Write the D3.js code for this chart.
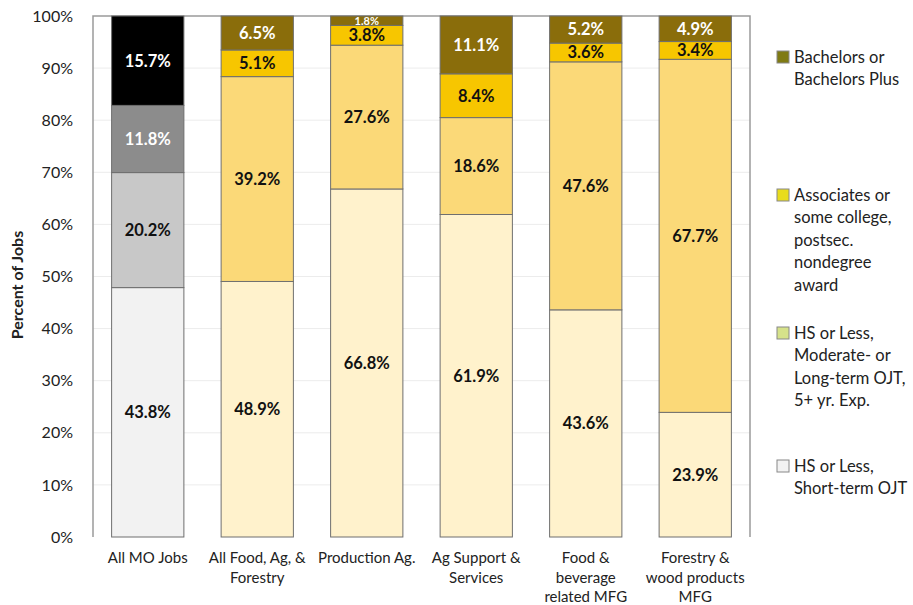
<!DOCTYPE html>
<html>
<head>
<meta charset="utf-8">
<script src="https://cdn.jsdelivr.net/npm/d3@7"></script>
<style>
  body { margin: 0; background: #fff; }
  text { font-family: Lato, "Open Sans", sans-serif; }
</style>
</head>
<body>
<div class="chart"></div>
<script>
var svgWidth = 913;
var svgHeight = 605;

var margin = { top: 16, right: 163, bottom: 68, left: 93 };
var width = svgWidth - margin.left - margin.right;
var height = svgHeight - margin.top - margin.bottom;

// Data
var categories = ["All MO Jobs", "All Food, Ag, & Forestry", "Production Ag.",
  "Ag Support & Services", "Food & beverage related MFG", "Forestry & wood products MFG"];
var categoryLines = [
  ["All MO Jobs"],
  ["All Food, Ag, &", "Forestry"],
  ["Production Ag."],
  ["Ag Support &", "Services"],
  ["Food &", "beverage", "related MFG"],
  ["Forestry &", "wood products", "MFG"]
];
var shortTerm = [43.8, 48.9, 66.8, 61.9, 43.6, 23.9];
var moderateOJT = [20.2, 39.2, 27.6, 18.6, 47.6, 67.7];
var associates = [11.8, 5.1, 3.8, 8.4, 3.6, 3.4];
var bachelors = [15.7, 6.5, 1.8, 11.1, 5.2, 4.9];
var seriesKeys = ["short", "moderate", "associates", "bachelors"];
var legendLines = [
  ["Bachelors or", "Bachelors Plus"],
  ["Associates or", "some college,", "postsec.", "nondegree", "award"],
  ["HS or Less,", "Moderate- or", "Long-term OJT,", "5+ yr. Exp."],
  ["HS or Less,", "Short-term OJT"]
];
var yTicks = [0, 0.1, 0.2, 0.3, 0.4, 0.5, 0.6, 0.7, 0.8, 0.9, 1];

// colours: first bar is grey scale, the rest are gold
var greyColors = ["#f2f2f2", "#c8c8c8", "#8c8c8c", "#000000"];
var goldColors = ["#fff2cc", "#fbd978", "#f7c600", "#8a6d0b"];
var legendColors = ["#7f7a12", "#e8dc1c", "#d6e28a", "#f2f2f2"];

var rows = categories.map(function(c, i) {
  return { cat: c, short: shortTerm[i], moderate: moderateOJT[i],
    associates: associates[i], bachelors: bachelors[i] };
});

var svg = d3.select(".chart")
  .append("svg")
  .attr("width", svgWidth)
  .attr("height", svgHeight);

var chartGroup = svg.append("g")
  .attr("transform", `translate(${margin.left}, ${margin.top})`);

var xScale = d3.scaleBand()
  .domain(categories)
  .range([0, width])
  .paddingInner(0.34)
  .paddingOuter(0.17);

var yScale = d3.scaleLinear()
  .domain([0, 1])
  .range([height, 0]);

// gridlines
chartGroup.selectAll(".grid")
  .data(yTicks.slice(1, -1))
  .enter()
  .append("line")
  .attr("x1", 0)
  .attr("x2", width)
  .attr("y1", d => yScale(d))
  .attr("y2", d => yScale(d))
  .attr("stroke", "#ececec")
  .attr("stroke-width", 1);

// frame
chartGroup.append("path")
  .attr("d", `M0,${height}V0H${width}V${height}`)
  .attr("fill", "none")
  .attr("stroke", "#9a9a9a")
  .attr("stroke-width", 1.5);

// y axis
var leftAxis = d3.axisLeft(yScale)
  .tickValues(yTicks)
  .tickFormat(d3.format(".0%"))
  .tickSize(0)
  .tickPadding(20);

var yAxisG = chartGroup.append("g").call(leftAxis);
yAxisG.select(".domain").remove();
yAxisG.selectAll("text")
  .attr("font-family", "Lato, sans-serif")
  .attr("font-size", "16px")
  .attr("fill", "#222");

// stack (normalised to 100%)
var stack = d3.stack().keys(seriesKeys).offset(d3.stackOffsetExpand);
var stacked = stack(rows);

var layers = chartGroup.selectAll(".layer")
  .data(stacked)
  .enter()
  .append("g")
  .attr("class", "layer");

function segColor(layerIdx, catIdx) {
  return catIdx === 0 ? greyColors[layerIdx] : goldColors[layerIdx];
}

layers.each(function(layer, li) {
  var g = d3.select(this);
  g.selectAll("rect")
    .data(layer)
    .enter()
    .append("rect")
    .attr("x", d => xScale(d.data.cat))
    .attr("y", d => yScale(d[1]))
    .attr("width", xScale.bandwidth())
    .attr("height", d => yScale(d[0]) - yScale(d[1]))
    .attr("fill", (d, i) => segColor(li, i))
    .attr("stroke", "#6f6f6f")
    .attr("stroke-width", 1);
});

// value labels
layers.each(function(layer, li) {
  var g = d3.select(this);
  g.selectAll("text")
    .data(layer)
    .enter()
    .append("text")
    .attr("x", d => xScale(d.data.cat) + xScale.bandwidth() / 2)
    .attr("y", d => (yScale(d[0]) + yScale(d[1])) / 2)
    .attr("dy", "0.36em")
    .attr("text-anchor", "middle")
    .attr("font-weight", "bold")
    .attr("font-size", d => (yScale(d[0]) - yScale(d[1]) < 14 ? "11px" : "16.5px"))
    .attr("fill", (d, i) => d3.lab(segColor(li, i)).l < 65 ? "#fff" : "#111")
    .text(d => d.data[layer.key].toFixed(1) + "%");
});

// x labels
var xLabels = chartGroup.selectAll(".xlab")
  .data(categories)
  .enter()
  .append("text")
  .attr("class", "xlab")
  .attr("x", d => xScale(d) + xScale.bandwidth() / 2)
  .attr("y", height + 26)
  .attr("text-anchor", "middle")
  .attr("font-size", "15px")
  .attr("fill", "#222");

xLabels.each(function(d, i) {
  var t = d3.select(this);
  categoryLines[i].forEach(function(line, j) {
    t.append("tspan")
      .attr("x", xScale(d) + xScale.bandwidth() / 2)
      .attr("dy", j === 0 ? 0 : 19.5)
      .text(line);
  });
});

// y axis title
svg.append("text")
  .attr("transform", "translate(23, 285) rotate(-90)")
  .attr("text-anchor", "middle")
  .attr("font-size", "16px")
  .attr("font-weight", "bold")
  .attr("fill", "#222")
  .text("Percent of Jobs");

// legend
var legendY = [57, 195, 333, 466];
var legend = svg.selectAll(".legend")
  .data(legendLines)
  .enter()
  .append("g")
  .attr("class", "legend")
  .attr("transform", (d, i) => `translate(777, ${legendY[i]})`);

legend.append("rect")
  .attr("x", 0)
  .attr("y", -6)
  .attr("width", 12)
  .attr("height", 12)
  .attr("fill", (d, i) => legendColors[i])
  .attr("stroke", "#888")
  .attr("stroke-width", 1);

legend.append("text")
  .attr("x", 17)
  .attr("y", 0)
  .attr("font-size", "16.5px")
  .attr("fill", "#222")
  .each(function(lines) {
    var t = d3.select(this);
    lines.forEach(function(line, j) {
      t.append("tspan")
        .attr("x", 17)
        .attr("dy", j === 0 ? "0.36em" : 22.5)
        .text(line);
    });
  });
</script>
</body>
</html>
